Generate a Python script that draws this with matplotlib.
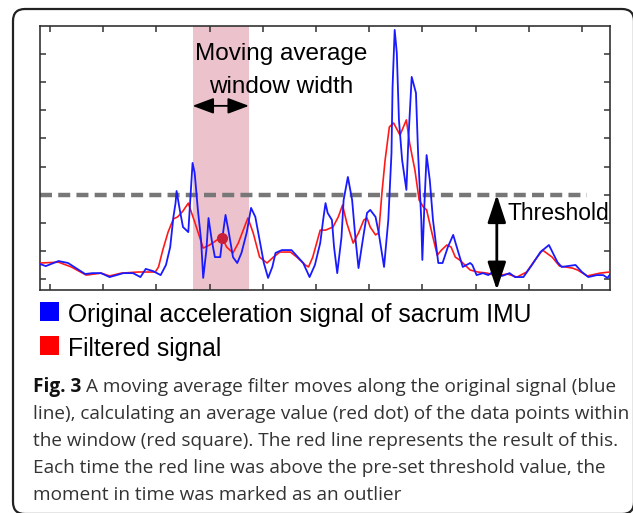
import matplotlib
matplotlib.use('Agg')
import matplotlib.pyplot as plt
from matplotlib import font_manager as fm
from matplotlib.patches import FancyBboxPatch, Rectangle
from matplotlib.transforms import IdentityTransform

# ---------------- data (samples, signal units) ----------------
blue_x = [-9, -4, 8, 17, 33, 40, 48, 56, 69, 78, 85, 90, 97, 104, 109, 113, 116, 118, 119, 122,
          125, 130, 134, 136, 139, 142, 144, 147, 149, 152, 155, 160, 163, 165, 168, 172, 176, 180,
          185, 189, 193, 197, 201, 205, 209, 212, 218, 227, 233, 238, 244, 249, 254, 257, 259, 261,
          265, 267, 270, 274, 276, 280, 284, 287, 290, 293, 298, 301, 306, 309, 314, 318, 321, 322,
          324, 326, 328, 331, 335, 337, 340, 344, 346, 349, 350, 352, 354, 357, 360, 365, 369, 374,
          379, 384, 388, 395, 397, 401, 407, 412, 416, 425, 432, 437, 445, 453, 461, 469, 477, 481,
          494, 500, 506, 514, 520, 524, 526]
blue_y = [1.53, 1.46, 1.64, 1.57, 1.18, 1.21, 1.21, 1.07, 1.21, 1.21, 1.07, 1.36, 1.28, 1.14, 1.50,
          2.14, 3.21, 3.70, 4.13, 3.46, 2.85, 2.67, 5.13, 4.77, 3.46, 2.39, 1.04, 2.03, 3.17, 2.39,
          1.78, 1.78, 2.74, 3.28, 2.67, 1.78, 1.57, 1.93, 2.67, 3.53, 3.21, 2.39, 1.57, 1.04, 1.43,
          1.93, 2.03, 2.03, 1.78, 1.57, 1.07, 1.50, 2.28, 3.17, 3.70, 3.35, 3.10, 2.14, 1.21, 2.49,
          3.81, 4.63, 3.81, 2.49, 1.39, 2.14, 3.35, 3.46, 3.21, 2.64, 1.43, 3.10, 5.48, 7.83, 9.86,
          9.04, 6.66, 5.23, 4.17, 6.05, 8.19, 7.62, 5.48, 3.10, 1.68, 3.70, 5.41, 4.52, 3.10, 1.57,
          1.57, 2.14, 2.57, 1.93, 1.43, 1.57, 1.50, 1.14, 1.21, 1.14, 1.25, 1.11, 1.21, 1.07, 1.07,
          1.50, 1.96, 2.21, 1.60, 1.43, 1.50, 1.25, 1.07, 1.14, 1.14, 1.04, 1.14]

red_x = [-9, 8, 20, 34, 48, 56, 67, 83, 99, 102, 106, 111, 116, 120, 125, 130, 136, 144, 150, 157,
         162, 166, 172, 177, 186, 191, 197, 204, 210, 216, 226, 232, 240, 243, 247, 254, 259, 266,
         271, 275, 279, 285, 290, 295, 298, 301, 306, 309, 312, 315, 319, 323, 329, 335, 338, 343,
         347, 351, 354, 359, 364, 368, 373, 377, 381, 385, 395, 402, 411, 420, 430, 439, 448, 456,
         463, 472, 479, 491, 496, 505, 517, 526]
red_y = [1.57, 1.60, 1.43, 1.14, 1.21, 1.11, 1.21, 1.25, 1.25, 1.43, 2.03, 2.67, 3.14, 3.21, 3.42,
         3.70, 3.03, 2.10, 2.21, 2.39, 2.46, 2.14, 1.93, 2.28, 3.17, 2.64, 1.78, 1.57, 1.78, 1.96,
         1.96, 1.78, 1.50, 1.43, 1.78, 2.74, 2.74, 2.85, 3.21, 3.63, 2.99, 2.28, 2.64, 3.10, 3.17,
         2.85, 2.57, 2.64, 4.06, 5.23, 6.41, 6.55, 6.12, 6.66, 5.84, 4.88, 3.81, 3.56, 3.46, 2.64,
         1.85, 2.03, 2.21, 2.14, 1.78, 1.68, 1.32, 1.25, 1.21, 1.11, 1.18, 1.07, 1.25, 1.68, 2.03,
         1.78, 1.46, 1.39, 1.32, 1.11, 1.21, 1.25]

avg_point = (162, 2.46)          # red dot: average inside the window
window = (134, 187)              # moving-average window span
threshold = 4.0
threshold_end = 505
threshold_arrow_x = 420
x_ticks = list(range(0, 501, 50))
y_ticks = list(range(1, 10))

legend_labels = ["Original acceleration signal of sacrum IMU", "Filtered signal"]
caption_bold = "Fig. 3"
caption_lines = [
    "A moving average filter moves along the original signal (blue",
    "line), calculating an average value (red dot) of the data points within",
    "the window (red square). The red line represents the result of this.",
    "Each time the red line was above the pre-set threshold value, the",
    "moment in time was marked as an outlier",
]


def pick(fams):
    for f in fams:
        try:
            fm.findfont(fm.FontProperties(family=f), fallback_to_default=False)
            return f
        except Exception:
            pass
    return 'DejaVu Sans'


ARIAL = pick(['Liberation Sans', 'Arial', 'DejaVu Sans'])
CAP = pick(['Open Sans', 'Noto Sans', 'DejaVu Sans'])

W, H = 633, 513
fig = plt.figure(figsize=(W / 100, H / 100), dpi=100)


def fx(px):
    return px / W


def fy(py):
    return 1 - py / H


ax = fig.add_axes([fx(40), fy(290), 570 / W, 264 / H])
ax.set_xlim(-9.4, 526.4)
ax.set_ylim(0.61, 10.0)

ax.axvspan(window[0], window[1], color='#ecc3cc', zorder=1, lw=0)
ax.plot([ax.get_xlim()[0], threshold_end], [threshold, threshold], color='#777777', lw=3.2,
        linestyle=(0, (2.7, 1.4)), zorder=2, solid_capstyle='butt')
ax.plot(red_x, red_y, color='#ff1a1a', lw=1.2, zorder=3)
ax.plot(blue_x, blue_y, color='#1a1aff', lw=1.3, zorder=4)
ax.plot([avg_point[0]], [avg_point[1]], 'o', color='#c8203a', ms=7, zorder=5)

# window width arrow
ax.annotate('', xy=(window[0], 7.16), xytext=(window[1], 7.16),
            arrowprops=dict(arrowstyle='<|-|>,head_length=0.72,head_width=0.27', color='black',
                            lw=1.3, shrinkA=0, shrinkB=0, mutation_scale=18), zorder=6)
# threshold arrow
ax.annotate('', xy=(threshold_arrow_x, threshold), xytext=(threshold_arrow_x, ax.get_ylim()[0]),
            arrowprops=dict(arrowstyle='<|-|>,head_length=0.85,head_width=0.28', color='black',
                            lw=2.0, shrinkA=0, shrinkB=0, mutation_scale=20), zorder=6)

ax.text(217, 8.79, 'Moving average', ha='center', va='baseline', fontsize=17.5, family=ARIAL)
ax.text(217, 7.62, 'window width', ha='center', va='baseline', fontsize=17.5, family=ARIAL)
ax.text(430, 3.10, 'Threshold', ha='left', va='baseline', fontsize=16.5, family=ARIAL)

ax.set_xticks(x_ticks)
ax.set_yticks(y_ticks)
ax.tick_params(direction='in', top=True, right=True, length=4.5, width=1.1, color='#333333',
               labelbottom=False, labelleft=False)
for s in ax.spines.values():
    s.set_color('#333333')
    s.set_linewidth(1.2)

# legend (figure level)
leg_colors = ['#0000ff', '#ff0000']
leg_tops = [302, 336]
for lab, col, top in zip(legend_labels, leg_colors, leg_tops):
    fig.patches.append(Rectangle((fx(40), fy(top + 19)), 19 / W, 19 / H, transform=fig.transFigure,
                                 facecolor=col, edgecolor='none'))
    fig.text(fx(68), fy(top + 20), lab, fontsize=17.8, family=ARIAL, va='baseline', ha='left')

# outer rounded frame
fig.patches.append(FancyBboxPatch((13, -1), 621, 505, boxstyle='round,pad=0,rounding_size=12',
                                  transform=IdentityTransform(), facecolor='none',
                                  edgecolor='#222222', lw=1.6, clip_on=False))

# caption
baselines = [392, 419, 446, 473, 500]
fs_cap = 13.65
t_bold = fig.text(fx(33), fy(baselines[0]), caption_bold, fontsize=fs_cap, family=CAP,
                  weight='bold', va='baseline', ha='left', color='#111111')
r = fig.canvas.get_renderer()
bb = t_bold.get_window_extent(renderer=r)
fig.text((bb.x1 + 5) / W, fy(baselines[0]), caption_lines[0], fontsize=fs_cap, family=CAP,
         va='baseline', ha='left', color='#333333')
for line, b in zip(caption_lines[1:], baselines[1:]):
    fig.text(fx(33), fy(b), line, fontsize=fs_cap, family=CAP, va='baseline', ha='left',
             color='#333333')

fig.savefig('out.png', dpi=100)
